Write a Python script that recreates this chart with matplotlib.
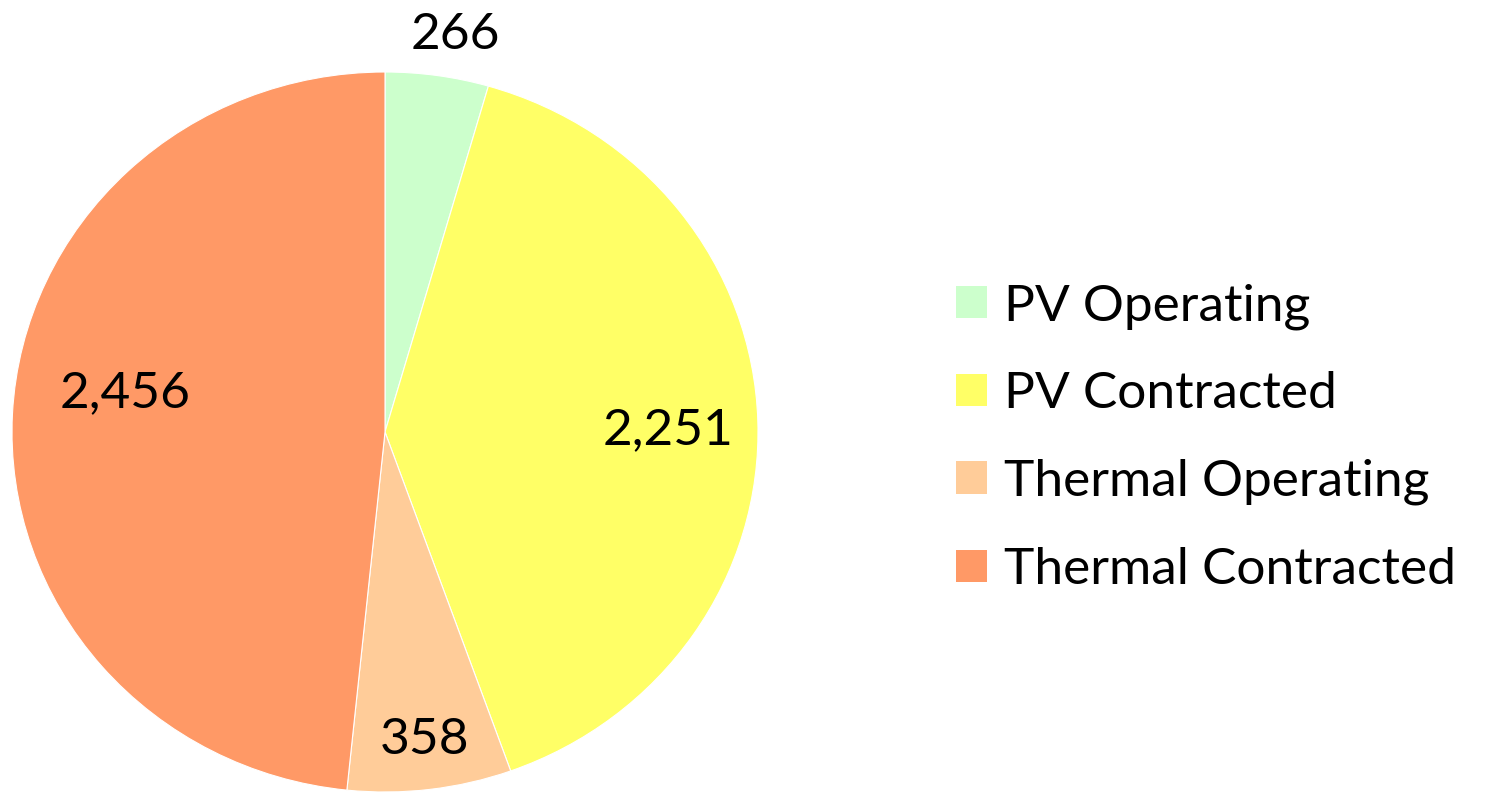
import matplotlib
matplotlib.use("Agg")
import matplotlib.pyplot as plt

categories = ["PV Operating", "PV Contracted", "Thermal Operating", "Thermal Contracted"]
# slice shares (%) as drawn in the picture
slice_shares = [4.47, 40.06, 7.10, 48.37]
# data labels printed on the chart
value_labels = ["266", "2,251", "358", "2,456"]
colors = ["#CCFFCC", "#FFFF66", "#FFCC99", "#FF9966"]

# label anchor positions (axes data units, pie radius = 1)
label_xy = [(0.188, 1.103), (0.759, 0.005), (0.107, -0.856), (-0.697, 0.108)]

plt.rcParams['font.family'] = ['Lato', 'DejaVu Sans']
W, H = 1488, 793
fig = plt.figure(figsize=(W / 100, H / 100), dpi=100)
# slightly elliptical pie area, in pixels: x 12..758, y 72..792
ax = fig.add_axes([12 / W, (H - 792) / H, 746 / W, 720 / H])
wedges, _ = ax.pie(slice_shares, colors=colors, startangle=90, counterclock=False,
                   radius=1, wedgeprops=dict(edgecolor="white", linewidth=0.8))
ax.set_aspect('auto')
ax.set_xlim(-1, 1)
ax.set_ylim(-1, 1)
ax.axis('off')
for w in wedges:
    w.set_clip_on(False)

for (x, y), t in zip(label_xy, value_labels):
    ax.text(x, y, t, ha='center', va='center', fontsize=37, color='black', clip_on=False)

leg = fig.legend(wedges, categories, loc='center left',
                 bbox_to_anchor=(910 / W, 1 - 438 / H), frameon=False,
                 fontsize=37, handlelength=0.6, handleheight=0.6,
                 handletextpad=0.33, labelspacing=0.81)
for h in leg.legend_handles:
    h.set_edgecolor('none')

fig.savefig("out.png", dpi=100)
